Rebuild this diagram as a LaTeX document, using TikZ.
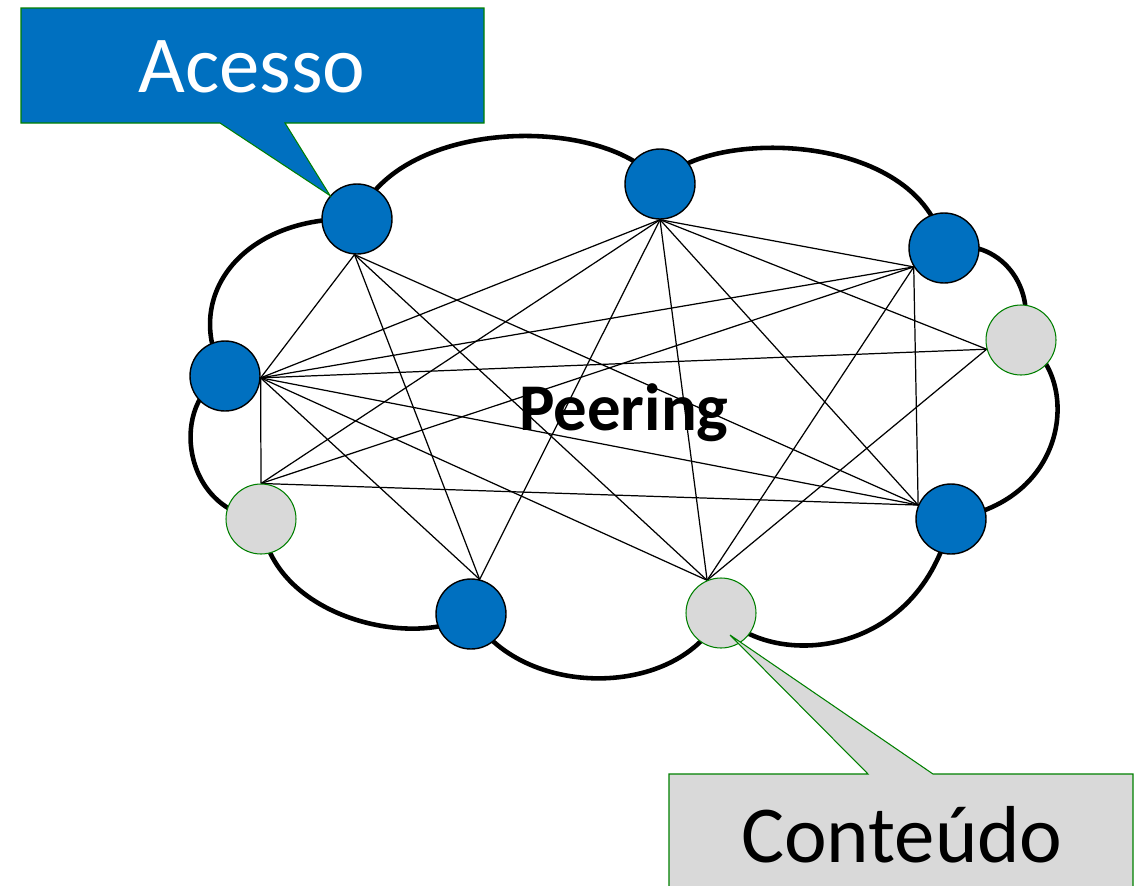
\documentclass[tikz,border=0pt]{standalone}
\usepackage{fontspec}
\setmainfont{Carlito}
\usetikzlibrary{calc,backgrounds}
\definecolor{accblue}{RGB}{0,112,192}
\definecolor{cntgray}{RGB}{217,217,217}
\definecolor{rimgreen}{RGB}{0,128,0}
\tikzset{
  accnode/.style={circle, fill=accblue, draw=black, line width=0.8pt, minimum size=1.4cm, inner sep=0pt},
  cntnode/.style={circle, fill=cntgray, draw=rimgreen, line width=0.6pt, minimum size=1.4cm, inner sep=0pt},
  peerlink/.style={black, line width=0.7pt},
  cloudrim/.style={black, line width=2.6pt},
  calloutbox/.style={draw=rimgreen, line width=0.6pt, line join=miter},
}

\begin{document}
\begin{tikzpicture}[x=0.02cm, y=-0.02cm]
			\useasboundingbox (0,0) rectangle (1140,886);
			\clip (0,0) rectangle (1140,886);
			% access (blue) and content (gray) routers
			\node[accnode] (a1) at (357,219) {};
			\node[accnode] (a2) at (660,184) {};
			\node[accnode] (a3) at (944,248) {};
			\node[cntnode] (g1) at (1021,340) {};
			\node[accnode] (a6) at (951,519) {};
			\node[cntnode] (g3) at (721,613) {};
			\node[accnode] (a5) at (471,614) {};
			\node[cntnode] (g2) at (261,519) {};
			\node[accnode] (a4) at (225,376) {};

			% where the links meet each router
			\coordinate (p-a1) at (a1.266);
			\coordinate (p-a2) at (a2.270);
			\coordinate (p-a3) at (a3.212);
			\coordinate (p-a4) at (a4.357);
			\coordinate (p-g1) at (g1.195);
			\coordinate (p-g2) at (g2.90);
			\coordinate (p-a5) at (a5.76);
			\coordinate (p-g3) at (g3.113);
			\coordinate (p-a6) at (a6.157);

			\begin{scope}[on background layer]
				% cloud outline
				\draw[cloudrim] (a1.center)
					.. controls (400,115) and (610,115) .. (a2.center)
					.. controls (700,128) and (920,128) .. (a3.center)
					.. controls (1000,235) and (1040,290) .. (g1.center)
					.. controls (1080,370) and (1075,500) .. (a6.center)
					.. controls (920,660) and (770,670) .. (g3.center)
					.. controls (680,700) and (520,700) .. (a5.center)
					.. controls (420,650) and (270,620) .. (g2.center)
					.. controls (180,510) and (170,400) .. (a4.center)
					.. controls (180,300) and (240,215) .. (a1.center);
				% peering links
				\foreach \u/\v in {a1/a4, a1/a5, a1/g3, a1/a6,
					a2/a4, a2/g2, a2/a5, a2/g3, a2/a6, a2/g1, a2/a3,
					a3/a4, a3/g2, a3/g3, a3/a6,
					a4/g1, a4/a6, a4/g3, a4/a5, a4/g2,
					g2/a6, g3/g1}
					\draw[peerlink] (p-\u) -- (p-\v);
			\end{scope}

			\node[font=\bfseries\fontsize{38}{41}\selectfont, anchor=base] (peering) at (624,430) {Peering};

			% callouts
			\coordinate (acctip) at (a1.139);
			\coordinate (cnttip) at ($(g3.center)+(9,22)$);
			\draw[calloutbox, fill=accblue] (21,8) -- (484,8) -- (484,123) -- (285,123)
				-- (acctip) -- (220,123) -- (21,123) -- cycle;
			\node[font=\fontsize{46}{50}\selectfont, text=white, anchor=base] (acesso) at (252,92) {Acesso};
			\draw[calloutbox, fill=cntgray] (669,774) -- (868,774) -- (cnttip) -- (933,774)
				-- (1133,774) -- (1133,900) -- (669,900) -- cycle;
			\node[font=\fontsize{46}{50}\selectfont, anchor=base] (conteudo) at (902,862) {Conteúdo};

		\end{tikzpicture}
\end{document}
